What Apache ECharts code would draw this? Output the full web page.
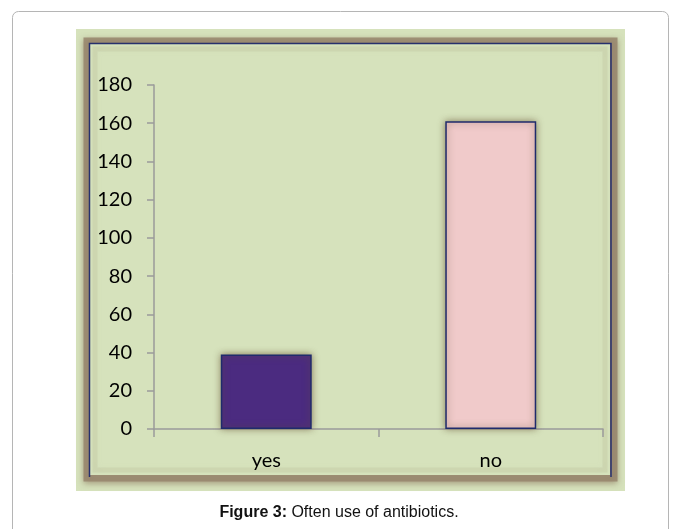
<!DOCTYPE html>
<html>
<head>
<meta charset="utf-8">
<script src="https://cdn.jsdelivr.net/npm/echarts@6/dist/echarts.min.js"></script>
<style>
html,body{margin:0;padding:0;background:#fff;}
#c{width:678px;height:529px;}
</style>
</head>
<body>
<div id="c"></div>
<script>
var categories = ['yes', 'no'];
var values = [39, 161];
var barColors = ['#4b2b80', '#f0caca'];
var yTicks = [0, 20, 40, 60, 80, 100, 120, 140, 160, 180];

var chart = echarts.init(document.getElementById('c'), null, {renderer: 'canvas'});
chart.setOption({
  backgroundColor: '#ffffff',
  animation: false,
  graphic: [
    {type: 'rect', z: -20, shape: {x: 12.5, y: 11.5, width: 656, height: 540, r: 6},
     style: {fill: '#ffffff', stroke: '#b5b5b5', lineWidth: 1}},
    {type: 'rect', z: -19, shape: {x: 76, y: 29, width: 549, height: 462},
     style: {fill: '#d6e2bc'}},
    {type: 'rect', z: -18, shape: {x: 88, y: 42, width: 525, height: 435},
     style: {fill: 'none', stroke: 'rgba(150,133,108,0.85)', lineWidth: 9, shadowBlur: 6, shadowOffsetY: 2, shadowColor: 'rgba(140,120,95,0.8)'}},
    {type: 'rect', z: -17, shape: {x: 90, y: 44, width: 520, height: 431},
     style: {fill: '#d6e2bc'}},
    {type: 'polyline', z: -16, shape: {points: [[89.5, 477], [89.5, 43.5], [611, 43.5], [611, 477]]},
     style: {fill: 'none', stroke: '#27306e', lineWidth: 1.5}},
    {type: 'rect', z: -16, shape: {x: 95, y: 49, width: 510, height: 421},
     style: {fill: 'none', stroke: 'rgba(170,165,130,0.18)', lineWidth: 5, shadowBlur: 6, shadowColor: 'rgba(170,165,130,0.2)'}},
    {type: 'text', left: 'center', top: 505, z: 10,
     style: {text: '{b|Figure 3:} Often use of antibiotics.', fill: '#111',
       font: '16px "Liberation Sans", Arial, sans-serif',
       rich: {b: {fontWeight: 'bold', fontSize: 16, fontFamily: 'Liberation Sans'}}}}
  ],
  grid: {left: 154, right: 75, top: 85, bottom: 100, containLabel: false},
  xAxis: {
    type: 'category',
    data: categories,
    axisLine: {lineStyle: {color: '#9a9a9a', width: 1.5}},
    axisTick: {show: true, length: 8, lineStyle: {color: '#9a9a9a', width: 1.5}},
    axisLabel: {color: '#000', fontSize: 20, fontFamily: 'Lato', margin: 22}
  },
  yAxis: {
    type: 'value',
    min: 0, max: 180, interval: 20,
    axisLine: {show: true, lineStyle: {color: '#9a9a9a', width: 1.5}},
    axisTick: {show: true, length: 7, lineStyle: {color: '#9a9a9a', width: 1.5}},
    splitLine: {show: false},
    axisLabel: {color: '#000', fontSize: 20, fontFamily: 'Lato', margin: 22,
      formatter: function (v) { return yTicks.indexOf(v) >= 0 ? String(v) : ''; }}
  },
  series: [{
    type: 'bar',
    barWidth: '40.5%',
    data: values.map(function (v, i) {
      return {value: v, itemStyle: {color: barColors[i]}};
    }),
    itemStyle: {borderColor: '#1f2b6c', borderWidth: 1.5,
      shadowBlur: 7, shadowColor: 'rgba(100,80,50,0.75)'}
  }]
});
</script>
</body>
</html>
